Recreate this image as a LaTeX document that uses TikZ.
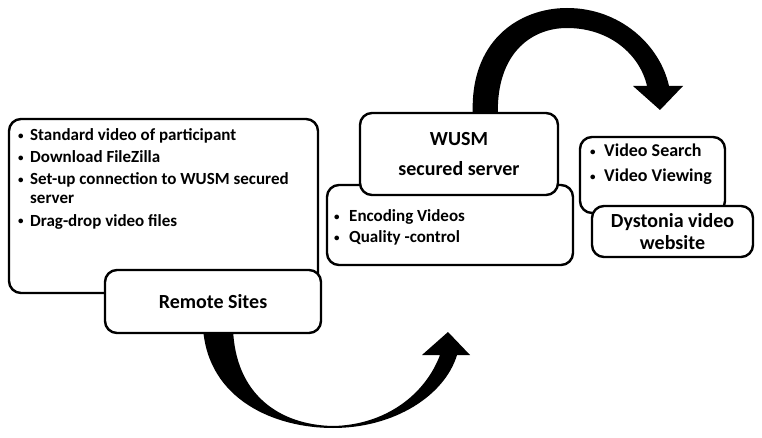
\documentclass[tikz,border=0pt]{standalone}
\usepackage{fontspec}
\setmainfont{Carlito}
\tikzset{
  box/.style={draw, line width=2.4pt, rounded corners=12pt, fill=white, inner sep=0pt},
  title/.style={font=\bfseries\fontsize{20}{30}\selectfont, align=center},
  item/.style={anchor=base west, inner sep=0pt, font=\bfseries\fontsize{17}{22}\selectfont},
}
\newcommand{\bul}[1][12pt]{\makebox[#1][l]{\raisebox{1.6pt}{\fontsize{11}{11}\selectfont\textbullet}}}
\begin{document}
\begin{tikzpicture}[x=1pt, y=-1pt]
  \useasboundingbox (0,0) rectangle (762,438);
  % block arrows
  \fill (473,118) .. controls (468,40) and (520,8) .. (567,8)
    .. controls (620,8) and (660,45) .. (669,86) -- (683,86) -- (660,110) -- (633,86) -- (647,86)
    .. controls (640,55) and (610,28) .. (567,28)
    .. controls (530,28) and (495,55) .. (498,118) -- cycle;
  \fill (203,328) .. controls (208,400) and (275,428) .. (333,428)
    .. controls (395,428) and (445,395) .. (457,355) -- (470,355) -- (448,332) -- (422,355) -- (440,355)
    .. controls (425,395) and (385,425) .. (333,426)
    .. controls (280,425) and (235,395) .. (233,328) -- cycle;
  % boxes
  \node[box, minimum width=309pt, minimum height=174pt] (remote) at (163.5,206) {};
  \node[box, title, minimum width=216pt, minimum height=63pt] (sites) at (213,301.5) {Remote Sites};
  \node[box, minimum width=246pt, minimum height=80pt] (encode) at (450,225) {};
  \node[box, title, minimum width=198pt, minimum height=82pt] (wusm) at (459,154) {WUSM\\secured server};
  \node[box, minimum width=145pt, minimum height=76pt] (video) at (652.5,175) {};
  \node[box, title, minimum width=161pt, minimum height=51pt, font=\bfseries\fontsize{20}{22}\selectfont] (site) at (672.5,231.5) {Dystonia video\\website};
  % bullet lists
  \foreach \y/\t [count=\i] in {141/Standard video of participant, 163/Download FileZilla,
      185/Set-up connection to WUSM secured, 226/Drag-drop video files}
    \node[item] (rem\i) at (18,\y) {\bul\t};
  \node[item] (rem5) at (18,204) {\hspace{12pt}server};
  \foreach \y/\t [count=\i] in {222/Encoding Videos, 243/Quality -control}
    \node[item] (enc\i) at (334,\y) {\bul[15pt]\t};
  \foreach \y/\t [count=\i] in {157/Video Search, 182/Video Viewing}
    \node[item, font=\bfseries\fontsize{18}{22}\selectfont] (vid\i) at (590,\y) {\bul[14pt]\t};
\end{tikzpicture}
\end{document}
